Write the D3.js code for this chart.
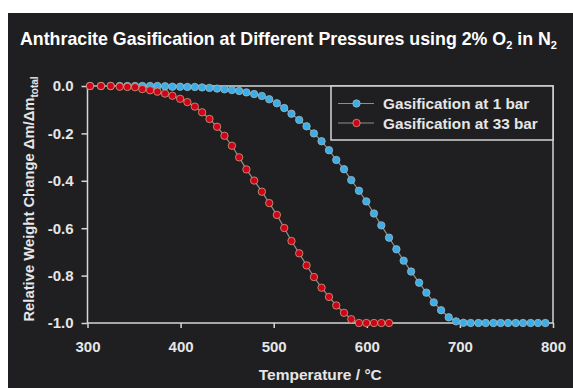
<!DOCTYPE html>
<html>
<head>
<meta charset="utf-8">
<script src="https://cdn.jsdelivr.net/npm/d3@7"></script>
<style>
  html, body { margin: 0; padding: 0; background: #fff; }
  svg { display: block; font-family: 'Liberation Sans', Arial, sans-serif; }
  .tick text { fill: #e6e6e6; font-size: 15px; font-weight: bold; }
  .tick line { stroke: #d6d6d6; stroke-width: 1.5; }
</style>
</head>
<body>
<div id="chart"></div>
<script>
// sample temperatures (°C), shared by both runs
const temps = [302.7, 314.5, 324.9, 334.6, 342.8, 351.1, 358.9, 367.2, 375.1, 383.3,
  391.2, 399.5, 407.3, 415.3, 423.1, 431.0, 439.2, 447.1, 455.1, 462.9,
  470.7, 479.0, 487.3, 495.2, 503.4, 511.3, 519.1, 527.4, 535.3, 543.2,
  551.4, 559.4, 567.2, 575.5, 583.3, 591.6, 599.5, 607.7, 615.6, 623.9,
  631.8, 639.6, 647.6, 656.2, 664.0, 671.9, 679.8, 688.0, 695.9, 703.8,
  711.6, 719.9, 727.7, 736.0, 743.8, 751.7, 759.9, 767.8, 776.0, 783.9, 791.8]

// gasification at 1 bar
const bar1Vals = [0, 0, 0, 0, 0, 0, 0, 0, 0, -0.001,
  -0.003, -0.003, -0.004, -0.004, -0.006, -0.008, -0.011, -0.014, -0.017, -0.021,
  -0.027, -0.034, -0.042, -0.056, -0.073, -0.093, -0.117, -0.143, -0.170, -0.200,
  -0.233, -0.271, -0.312, -0.351, -0.397, -0.442, -0.487, -0.538, -0.588, -0.640,
  -0.689, -0.737, -0.783, -0.830, -0.872, -0.913, -0.946, -0.976, -0.993, -0.999,
  -1, -1, -1, -1, -1, -1, -1, -1, -1, -1, -1]

// gasification at 33 bar (first 40 temperatures)
const bar33Vals = [0, 0, 0, -0.003, -0.004, -0.005, -0.013, -0.018, -0.024, -0.032,
  -0.041, -0.054, -0.068, -0.087, -0.111, -0.139, -0.172, -0.210, -0.252, -0.301,
  -0.352, -0.399, -0.446, -0.494, -0.544, -0.599, -0.654, -0.706, -0.757, -0.806,
  -0.851, -0.890, -0.926, -0.957, -0.984, -1, -1, -1, -1, -1]

const xTicks = [300, 400, 500, 600, 700, 800]
const yTicks = [0, -0.2, -0.4, -0.6, -0.8, -1.0]

const series = [
  { name: 'Gasification at 1 bar', color: '#3aaee6', edge: '#9fb7c4', vals: bar1Vals },
  { name: 'Gasification at 33 bar', color: '#d0021b', edge: '#c9a27a', vals: bar33Vals }
]

const W = 573, H = 388
const svg = d3.select('#chart').append('svg').attr('width', W).attr('height', H)

// dark panel
svg.append('rect').attr('x', 8).attr('y', 13).attr('width', W - 8).attr('height', H - 13)
  .attr('fill', '#1f1f21')

const x = d3.scaleLinear().domain([300, 800]).range([87.5, 553])
const y = d3.scaleLinear().domain([-1, 0]).range([323, 86])

// title
const title = svg.append('text').attr('x', 20).attr('y', 45)
  .attr('fill', '#fff').style('font-size', '17.8px').style('font-weight', 'bold')
title.append('tspan').text('Anthracite Gasification at Different Pressures using 2% O')
title.append('tspan').attr('dy', 4).style('font-size', '11px').text('2')
title.append('tspan').attr('dy', -4).text(' in N')
title.append('tspan').attr('dy', 4).style('font-size', '11px').text('2')

// axes
const gx = svg.append('g').attr('transform', `translate(0,${y(-1)})`)
  .call(d3.axisBottom(x).tickValues(xTicks).tickSize(5).tickSizeOuter(0).tickPadding(13))
const gy = svg.append('g').attr('transform', `translate(${x(300)},0)`)
  .call(d3.axisLeft(y).tickValues(yTicks).tickSize(6).tickSizeOuter(0).tickPadding(8)
    .tickFormat(d => d.toFixed(1)))
gx.select('.domain').remove()
gy.select('.domain').remove()

// frame
svg.append('rect')
  .attr('x', x(300)).attr('y', y(0))
  .attr('width', x(800) - x(300)).attr('height', y(-1) - y(0))
  .attr('fill', 'none').attr('stroke', '#d6d6d6').attr('stroke-width', 1.5)

// axis titles
svg.append('text').attr('x', x(550)).attr('y', 380).attr('text-anchor', 'middle')
  .attr('fill', '#e6e6e6').style('font-size', '15.5px').style('font-weight', 'bold')
  .text('Temperature / °C')

const yl = svg.append('text').attr('transform', 'translate(34,199) rotate(-90)')
  .attr('text-anchor', 'middle').attr('fill', '#e6e6e6')
  .style('font-size', '14.8px').style('font-weight', 'bold')
yl.append('tspan').text('Relative Weight Change Δm/Δm')
yl.append('tspan').attr('dy', 4).style('font-size', '10px').text('total')

// data
const line = d3.line().x(d => x(d[0])).y(d => y(d[1]))
series.forEach(s => {
  const pts = s.vals.map((v, i) => [temps[i], v])
  const g = svg.append('g')
  g.append('path').datum(pts).attr('d', line)
    .attr('fill', 'none').attr('stroke', '#8e8e8e').attr('stroke-width', 1.2)
  g.selectAll('circle').data(pts).join('circle')
    .attr('cx', d => x(d[0])).attr('cy', d => y(d[1])).attr('r', 3.7)
    .attr('fill', s.color).attr('stroke', s.edge).attr('stroke-width', 0.8)
})

// legend
const lg = svg.append('g')
lg.append('rect').attr('x', 331).attr('y', y(0)).attr('width', x(800) - 331).attr('height', 54)
  .attr('fill', '#1f1f21').attr('stroke', '#d6d6d6').attr('stroke-width', 1.5)
series.forEach((s, i) => {
  const ly = 103.5 + i * 19.5
  lg.append('line').attr('x1', 338).attr('x2', 374).attr('y1', ly).attr('y2', ly)
    .attr('stroke', '#8e8e8e').attr('stroke-width', 1.2)
  lg.append('circle').attr('cx', 356.5).attr('cy', ly).attr('r', 3.7)
    .attr('fill', s.color).attr('stroke', s.edge).attr('stroke-width', 0.8)
  lg.append('text').attr('x', 383).attr('y', ly + 5.5).attr('fill', '#e6e6e6')
    .style('font-size', '15.3px').style('font-weight', 'bold').text(s.name)
})
</script>
</body>
</html>
